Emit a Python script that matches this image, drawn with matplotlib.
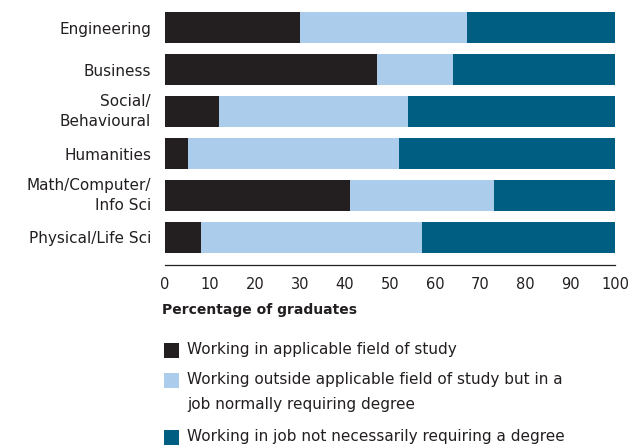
"""
Graduates by field of study: share working in / outside their field.
Horizontal 100% stacked bar chart with a hand-placed legend below.
"""

import matplotlib.pyplot as plt
from matplotlib.patches import Rectangle

FONT = "DejaVu Sans"
TEXT_COLOR = "#231f20"

fields = [
    "Engineering",
    "Business",
    "Social/\nBehavioural",
    "Humanities",
    "Math/Computer/\nInfo Sci",
    "Physical/Life Sci",
]
in_field = [30, 47, 12, 5, 41, 8]
outside_field_degree = [37, 17, 42, 47, 32, 49]
no_degree_needed = [33, 36, 46, 48, 27, 43]

series_labels = [
    "Working in applicable field of study",
    "Working outside applicable field of study but in a\njob normally requiring degree",
    "Working in job not necessarily requiring a degree",
]
series_colors = ["#231f20", "#abcdeb", "#005e82"]

x_ticks = list(range(0, 101, 10))
x_label = "Percentage of graduates"

plt.rcParams["font.family"] = [FONT]

W, H = 628, 445
fig = plt.figure(figsize=(W / 100, H / 100), dpi=100)

# axes placed in pixel terms: left 165, right 615, top 7, bottom 264.5
ax = fig.add_axes([165 / W, 1 - 264.5 / H, 450 / W, 257.5 / H])

positions = list(range(len(fields)))
left = [0] * len(fields)
for values, color in zip([in_field, outside_field_degree, no_degree_needed], series_colors):
    ax.barh(positions, values, left=left, height=0.74, color=color, linewidth=0)
    left = [a + b for a, b in zip(left, values)]

ax.set_xlim(0, 100)
ax.set_ylim(5.645, -0.5)
ax.set_xticks(x_ticks)
ax.set_yticks(positions)
ax.set_yticklabels(fields, linespacing=1.45)

for side in ["top", "right", "left"]:
    ax.spines[side].set_visible(False)
ax.spines["bottom"].set_color(TEXT_COLOR)
ax.spines["bottom"].set_linewidth(0.9)

ax.tick_params(axis="x", length=0, pad=9, labelsize=10.5, labelcolor=TEXT_COLOR)
ax.tick_params(axis="y", length=0, pad=10, labelsize=11, labelcolor=TEXT_COLOR)
for lbl in ax.get_yticklabels():
    lbl.set_va("center" if "\n" in lbl.get_text() else "center_baseline")

fig.text(162 / W, 1 - 310 / H, x_label, fontsize=10, fontweight="bold",
         color=TEXT_COLOR, va="center", ha="left")

# legend: square beside the first line of each label
legend_rows = [350, 380, 437]
for label, color, y in zip(series_labels, series_colors, legend_rows):
    fig.patches.append(Rectangle((164 / W, 1 - (y + 7.5) / H), 15 / W, 15 / H,
                                 transform=fig.transFigure, facecolor=color,
                                 edgecolor="none"))
    fig.text(187 / W, 1 - (y - 8) / H, label, fontsize=11, color=TEXT_COLOR,
             va="top", ha="left", linespacing=1.85)

fig.savefig("out.png", dpi=100)
